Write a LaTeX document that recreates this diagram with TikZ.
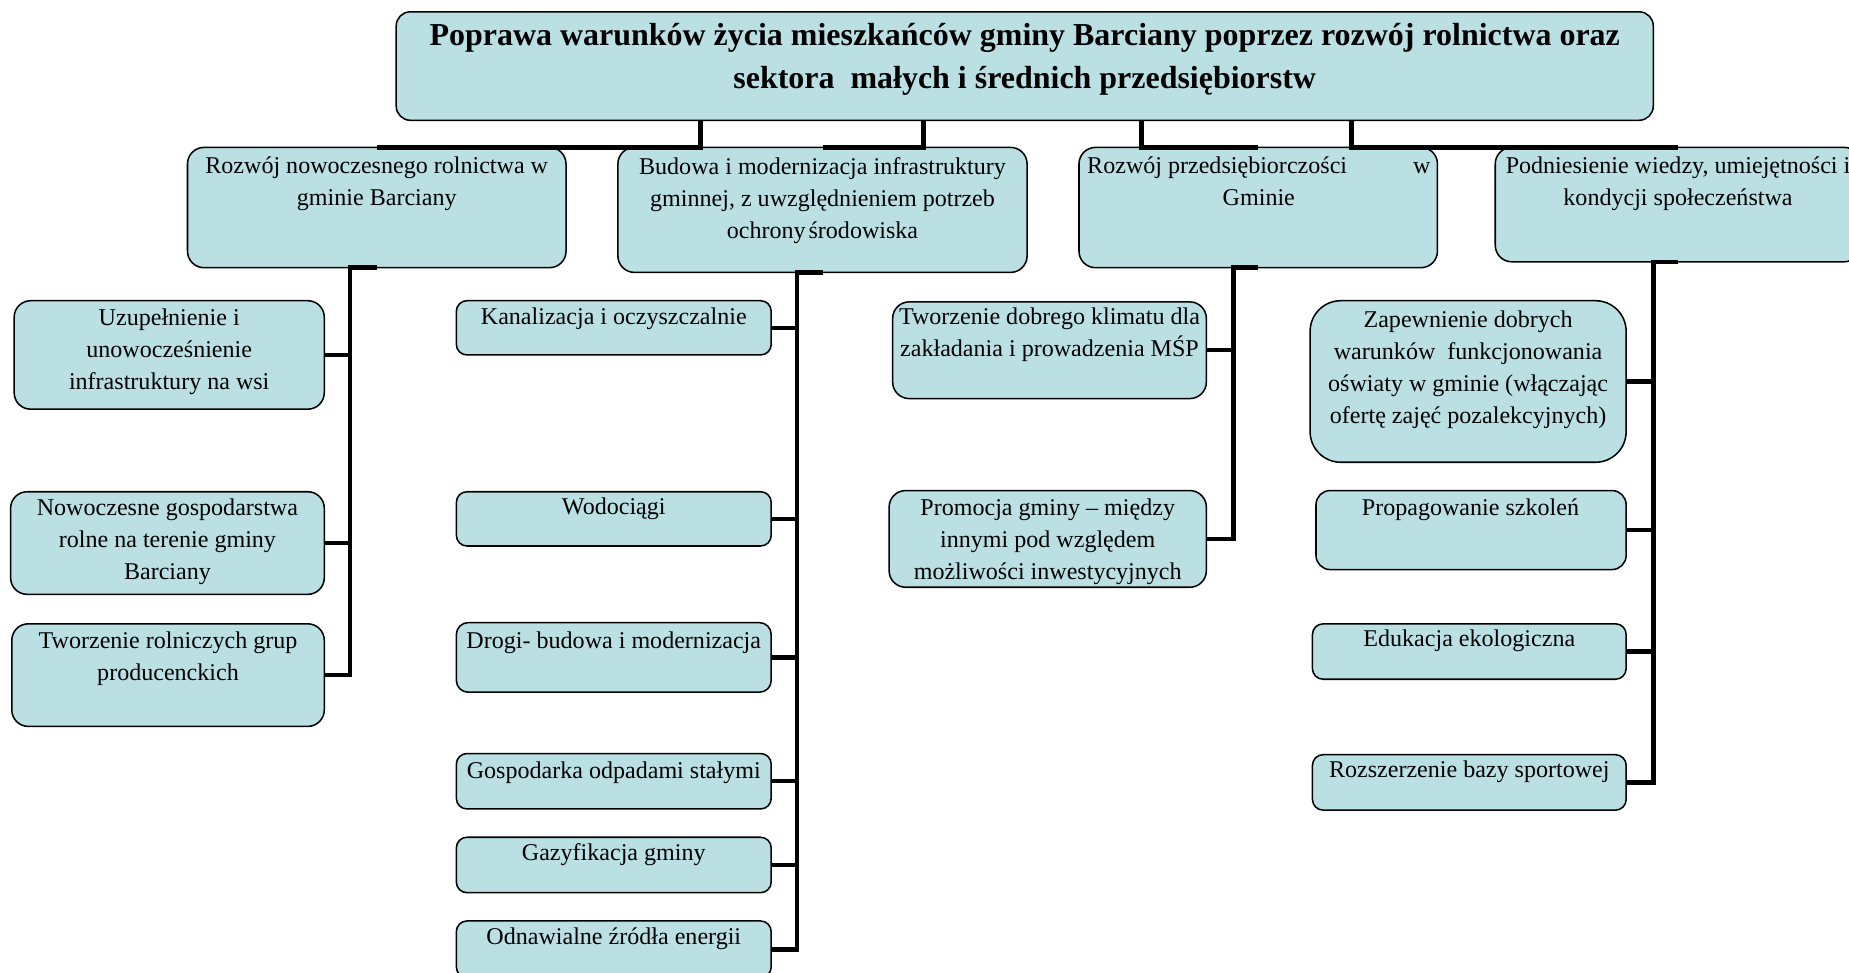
\documentclass[tikz,border=0pt]{standalone}
\usepackage{fontspec}
\setmainfont{Liberation Serif}
\definecolor{boxfill}{RGB}{186,224,228}
\begin{document}
\begin{tikzpicture}[x=1pt,y=-1pt,
  box/.style={draw=black, line width=1.3pt, fill=boxfill, rounded corners=12pt, inner sep=0pt, outer sep=0pt, anchor=north west},
  txt/.style={anchor=base, align=flush center, text width=340pt, inner sep=0pt, font=\fontsize{20.4}{27}\selectfont},
  ttl/.style={anchor=base, align=flush center, text width=1060pt, inner sep=0pt, font=\bfseries\fontsize{27.1}{36}\selectfont},
  conn/.style={line width=3.8pt, line join=miter}]
\useasboundingbox (0,0) rectangle (1568,825);

% title
\node[box, minimum width=1066pt, minimum height=92pt] (T) at (336,10) {};
\node[ttl] (Tt) at (869,39) {Poprawa warunków życia mieszkańców gminy Barciany poprzez rozwój rolnictwa oraz\\sektora\ \ małych i średnich przedsiębiorstw};

% level 2
\node[box, minimum width=321pt, minimum height=102pt, rounded corners=14pt] (B1) at (159,125) {};
\node[txt] (B1t) at (319.5,147) {Rozwój nowoczesnego rolnictwa w\\gminie Barciany};
\node[box, minimum width=347pt, minimum height=106pt, rounded corners=14pt] (B2) at (524,125) {};
\node[txt] (B2t) at (697.5,148) {Budowa i modernizacja infrastruktury\\gminnej, z uwzględnieniem potrzeb\\ochrony\hspace{0.12em}środowiska};
\node[box, minimum width=304pt, minimum height=102pt, rounded corners=14pt] (B3) at (915,125) {};
\node[txt, text width=291pt] (B3t) at (1067.5,147) {Rozwój przedsiębiorczości\hfill w\\Gminie};
\node[box, minimum width=310pt, minimum height=97pt, rounded corners=14pt] (B4) at (1268,125) {};
\node[txt] (B4t) at (1423,147) {Podniesienie wiedzy, umiejętności i\\kondycji społeczeństwa};

% children of B1
\node[box, minimum width=263pt, minimum height=92pt, rounded corners=14pt] (C11) at (12,255) {};
\node[txt] (C11t) at (143.5,276) {Uzupełnienie i\\unowocześnienie\\infrastruktury na wsi};
\node[box, minimum width=266pt, minimum height=87pt, rounded corners=14pt] (C12) at (9,417) {};
\node[txt] (C12t) at (142,437) {Nowoczesne gospodarstwa\\rolne na terenie gminy\\Barciany};
\node[box, minimum width=265pt, minimum height=87pt, rounded corners=14pt] (C13) at (10,529) {};
\node[txt] (C13t) at (142.5,550) {Tworzenie rolniczych grup\\producenckich};

% children of B2
\node[box, minimum width=267pt, minimum height=46pt, rounded corners=9pt] (C21) at (387,255) {};
\node[txt] (C21t) at (520.5,275) {Kanalizacja i oczyszczalnie};
\node[box, minimum width=267pt, minimum height=46pt, rounded corners=9pt] (C22) at (387,417) {};
\node[txt] (C22t) at (520.5,436) {Wodociągi};
\node[box, minimum width=267pt, minimum height=59pt, rounded corners=10pt] (C23) at (387,528) {};
\node[txt] (C23t) at (520.5,550) {Drogi- budowa i modernizacja};
\node[box, minimum width=267pt, minimum height=47pt, rounded corners=9pt] (C24) at (387,639) {};
\node[txt] (C24t) at (520.5,660) {Gospodarka odpadami stałymi};
\node[box, minimum width=267pt, minimum height=47pt, rounded corners=9pt] (C25) at (387,710) {};
\node[txt] (C25t) at (520.5,730) {Gazyfikacja gminy};
\node[box, minimum width=267pt, minimum height=48pt, rounded corners=9pt] (C26) at (387,781) {};
\node[txt] (C26t) at (520.5,801) {Odnawialne źródła energii};

% children of B3
\node[box, minimum width=266pt, minimum height=82pt, rounded corners=14pt] (C31) at (757,256) {};
\node[txt] (C31t) at (890,275) {Tworzenie dobrego klimatu dla\\zakładania i prowadzenia MŚP};
\node[box, minimum width=269pt, minimum height=82pt, rounded corners=14pt] (C32) at (754,416) {};
\node[txt] (C32t) at (888.5,437) {Promocja gminy – między\\innymi pod względem\\możliwości inwestycyjnych};

% children of B4
\node[box, minimum width=268pt, minimum height=137pt, rounded corners=26pt] (C41) at (1111,255) {};
\node[txt] (C41t) at (1245,278) {Zapewnienie dobrych\\warunków\ \ funkcjonowania\\oświaty w gminie (włączając\\ofertę zajęć pozalekcyjnych)};
\node[box, minimum width=263pt, minimum height=67pt, rounded corners=12pt] (C42) at (1116,416) {};
\node[txt] (C42t) at (1247,437) {Propagowanie szkoleń};
\node[box, minimum width=266pt, minimum height=47pt, rounded corners=9pt] (C43) at (1113,529) {};
\node[txt] (C43t) at (1246,548) {Edukacja ekologiczna};
\node[box, minimum width=266pt, minimum height=47pt, rounded corners=9pt] (C44) at (1113,640) {};
\node[txt] (C44t) at (1246,659) {Rozszerzenie bazy sportowej};

% connector points
\coordinate (t1) at (594,102);
\coordinate (t2) at (783,102);
\coordinate (t3) at (968,102);
\coordinate (t4) at (1146,102);
\coordinate (k1) at (297,227);
\coordinate (k2) at (676,231);
\coordinate (k3) at (1046,227);
\coordinate (k4) at (1402,222);

% level 1 -> level 2
\draw[conn] (t1) |- (B1.north);
\draw[conn] (t2) |- (B2.north);
\draw[conn] (t3) |- (B3.north);
\draw[conn] (t4) |- (B4.north);

% level 2 -> children
\foreach \c in {C11,C12,C13} \draw[conn] (B1.south) -- (k1) |- (\c.east);
\foreach \c in {C21,C22,C23,C24,C25,C26} \draw[conn] (B2.south) -- (k2) |- (\c.east);
\foreach \c in {C31,C32} \draw[conn] (B3.south) -- (k3) |- (\c.east);
\foreach \c in {C41,C42,C43,C44} \draw[conn] (B4.south) -- (k4) |- (\c.east);
\end{tikzpicture}
\end{document}
